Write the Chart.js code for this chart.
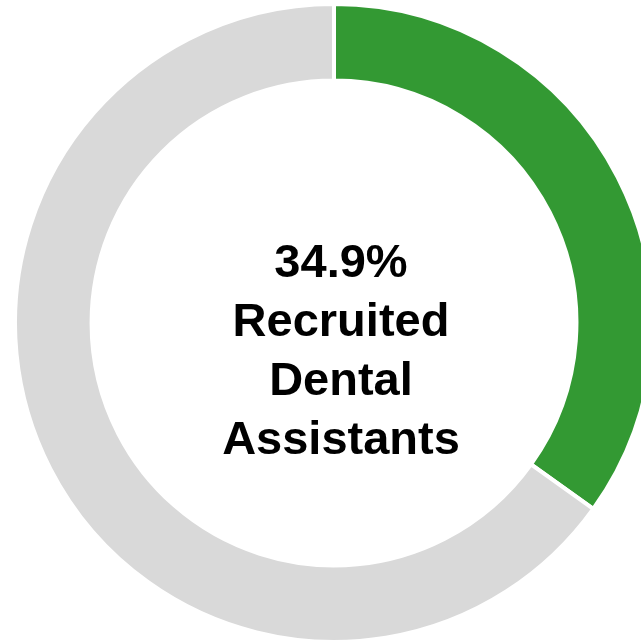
<!DOCTYPE html>
<html>
<head>
<meta charset="utf-8">
<script src="https://cdn.jsdelivr.net/npm/chart.js@4.4.0/dist/chart.umd.min.js"></script>
<style>
    html, body { margin: 0; padding: 0; background: #fff; overflow: hidden; width: 641px; height: 640px; }
    #wrap { position: absolute; left: 13px; top: 2px; width: 642px; height: 642px; }
    #centerText {
        position: absolute; left: 191px; top: 231px; width: 300px;
        text-align: center; font-family: "Liberation Sans", Arial, sans-serif;
        font-weight: bold; font-size: 47px; line-height: 59px; color: #000;
    }
</style>
</head>
<body>
<div id="wrap"><canvas id="donutChart" width="642" height="642"></canvas></div>
<div id="centerText">34.9%<br>Recruited<br>Dental<br>Assistants</div>
<script>
    // chart data
    var labels = ['Recruited Dental Assistants', 'Other'];
    var values = [34.9, 65.1];
    var colors = ['#339933', '#d9d9d9'];

    var ctx = document.getElementById('donutChart');
    new Chart(ctx, {
        type: 'doughnut',
        data: {
            labels: labels,
            datasets: [{
                data: values,
                backgroundColor: colors,
                borderColor: '#ffffff',
                borderWidth: 4
            }]
        },
        options: {
            responsive: false,
            animation: false,
            cutout: '76%',
            layout: { padding: 0 },
            plugins: {
                legend: { display: false },
                tooltip: { enabled: false }
            }
        }
    });
</script>
</body>
</html>
